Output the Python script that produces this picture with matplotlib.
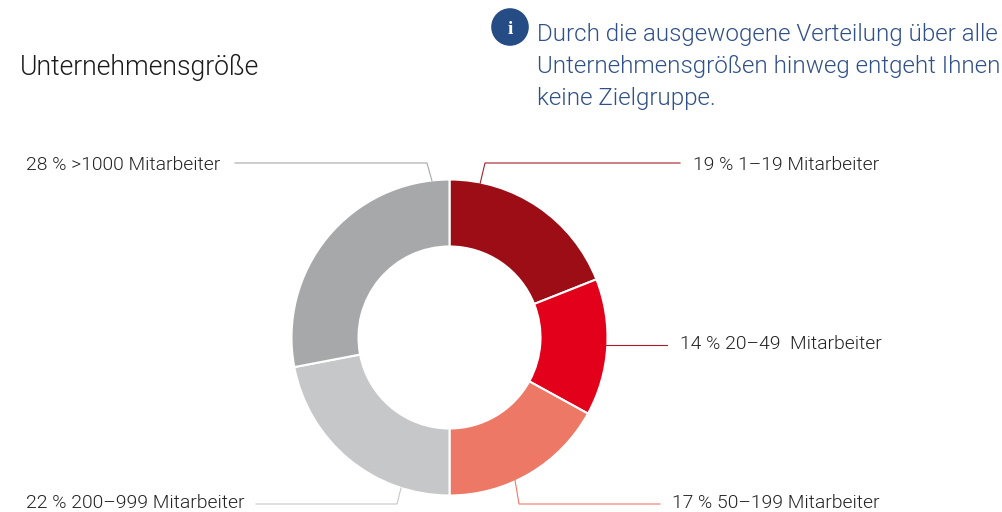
import matplotlib
matplotlib.use('Agg')
import matplotlib.pyplot as plt
from matplotlib.patches import Circle

W, H = 1002, 512

shares = [19, 14, 17, 22, 28]
sizes = ['1–19 Mitarbeiter', '20–49  Mitarbeiter', '50–199 Mitarbeiter', '200–999 Mitarbeiter', '>1000 Mitarbeiter']
colors = ['#9C0D15', '#E2001A', '#EE7866', '#C6C7C9', '#A7A8AA']
line_colors = ['#A5202A', '#A5202A', '#EE7866', '#C6C7C9', '#A7A8AA']

title = 'Unternehmensgröße'
info_lines = ['Durch die ausgewogene Verteilung über alle',
              'Unternehmensgrößen hinweg entgeht Ihnen',
              'keine Zielgruppe.']

plt.rcParams['font.family'] = ['Roboto', 'DejaVu Sans']
plt.rcParams['font.weight'] = 300

fig = plt.figure(figsize=(W / 100, H / 100), dpi=100, facecolor='white')

# donut, placed by pixel box
cx, cy, r = 449.5, 337.5, 158
ax_pie = fig.add_axes([(cx - r) / W, 1 - (cy + r) / H, 2 * r / W, 2 * r / H])
ax_pie.pie(shares, colors=colors, startangle=90, counterclock=False, radius=1,
           wedgeprops=dict(width=67 / 158, edgecolor='white', linewidth=1.5))
ax_pie.set_xlim(-1, 1)
ax_pie.set_ylim(-1, 1)

# overlay in pixel coordinates for labels and leaders
ax = fig.add_axes([0, 0, 1, 1], facecolor='none')
ax.set_xlim(0, W)
ax.set_ylim(H, 0)
ax.axis('off')

leaders = [
    ([480, 485, 680], [184, 163, 163]),
    ([606, 667], [345, 345]),
    ([515, 519, 660], [480, 504, 504]),
    ([401, 397, 256], [488, 504, 504]),
    ([432, 427, 235], [181, 163, 163]),
]
for (xs, ys), c in zip(leaders, line_colors):
    ax.plot(xs, ys, color=c, lw=0.8, solid_joinstyle='miter')

label_pos = [(693, 170), (680, 349), (672, 508), (26, 508), (26, 170)]
for share, size, (x, y) in zip(shares, sizes, label_pos):
    ax.text(x, y, f'{share} % {size}', fontsize=13.85, color='#222222', va='baseline')

ax.text(20, 75, title, fontsize=19.2, color='#1a1a1a', va='baseline')

ax.add_patch(Circle((510, 27), 18.8, facecolor='#264C85', edgecolor='none'))
ax.text(510, 34, 'i', fontsize=14, color='white', ha='center', va='baseline',
        fontweight='bold', family='Liberation Serif')

for line, y in zip(info_lines, [41, 73, 105]):
    ax.text(537, y, line, fontsize=17.35, color='#2F5088', va='baseline')

fig.savefig('out.png', dpi=100)
